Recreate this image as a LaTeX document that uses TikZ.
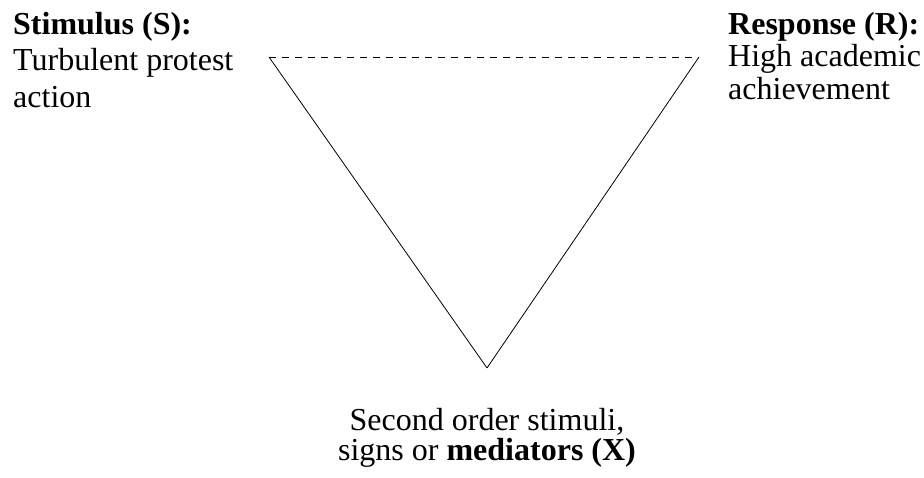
\documentclass[tikz,border=0pt]{standalone}
\usepackage{fontspec}
\setmainfont{Liberation Serif}
\usetikzlibrary{positioning}

\begin{document}
\begin{tikzpicture}[
  x=1pt, y=1pt,
  txt/.style={inner sep=0pt, font=\fontsize{32}{36.5}\selectfont},
  edge/.style={line width=0.8pt},
  link/.style={line width=0.8pt, dash pattern=on 7pt off 6pt}
]
\useasboundingbox (0,0) rectangle (924,478);

% ================= Triangle corners =================
\coordinate (s) at (269,421);
\coordinate (r) at (699,421);
\coordinate (x) at (487,110);

% ================= Labels =================
\node[txt, align=left, anchor=north west] (stim) at (13,466)
{\textbf{Stimulus (S):}\\Turbulent protest\\action};
\node[txt, align=left, anchor=north west, font=\fontsize{32}{32.5}\selectfont] (resp) at (728,466)
{\textbf{Response (R):}\\High academic\\achievement};
\node[txt, align=center, anchor=north, font=\fontsize{32}{30.5}\selectfont] (medi) at (487,70)
{Second order stimuli,\\signs or \textbf{mediators (X)}};

% ================= Edges =================
\draw[link] (s) -- (r);
\draw[edge] (s) -- (x);
\draw[edge] (x) -- (r);

\end{tikzpicture}
\end{document}
